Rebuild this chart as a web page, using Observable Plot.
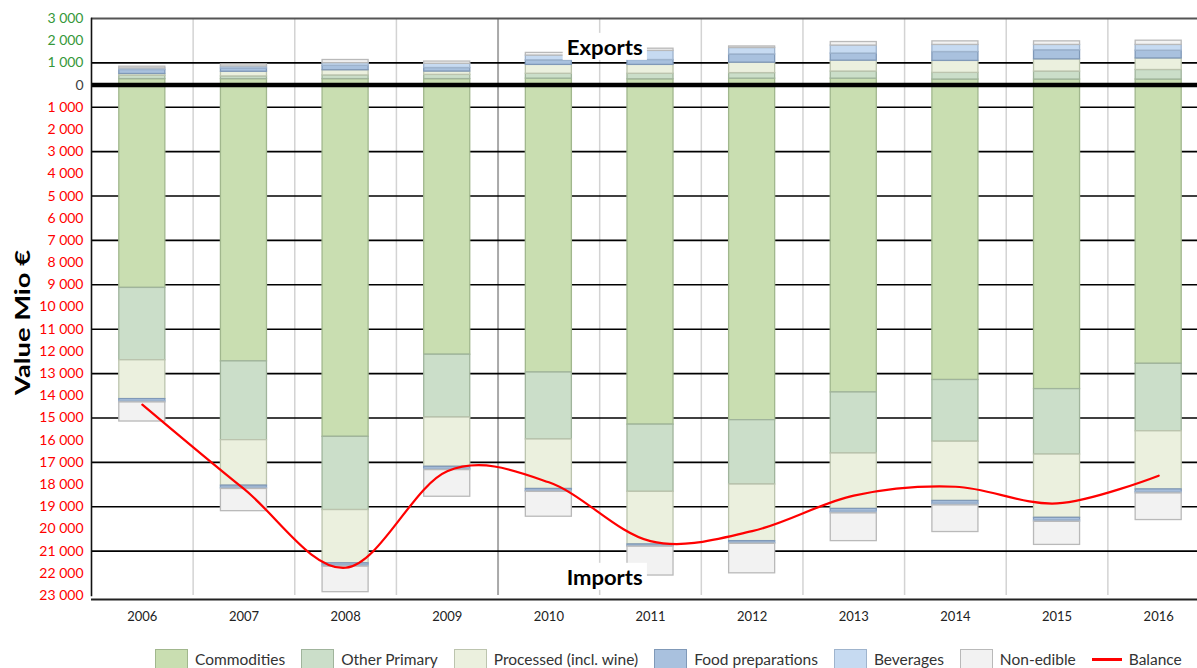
<!DOCTYPE html>
<html>
<head>
<meta charset="utf-8">
<script src="https://cdn.jsdelivr.net/npm/d3@7"></script>
<script src="https://cdn.jsdelivr.net/npm/@observablehq/plot@0.6"></script>
<style>
  html, body { margin: 0; padding: 0; background: #fff; overflow: hidden; }
  #chart { width: 1197px; height: 640px; overflow: hidden; }
  #legend { display: flex; align-items: center; padding-left: 155px; padding-top: 8px; height: 22px;
            font-family: Lato, "Open Sans", sans-serif; font-size: 15.5px; color: #333; white-space: nowrap; }
  .item { display: flex; align-items: center; margin-right: 16px; }
  .sw { width: 33px; height: 21px; margin-right: 7px; box-sizing: border-box; border: 1.5px solid; }
  .ln { width: 30px; height: 3px; background: #ff0000; margin-right: 7px; }
</style>
</head>
<body>
<div id="chart"></div>
<div id="legend"></div>
<script>
// ---------- data ----------
const years = ["2006","2007","2008","2009","2010","2011","2012","2013","2014","2015","2016"];
const categories = ["Commodities","Other Primary","Processed (incl. wine)","Food preparations","Beverages","Non-edible"];

// Exports (Mio €), positive
const exportCommodities      = [270, 270, 270, 270, 290, 260, 290, 290, 250, 250, 250];
const exportOtherPrimary     = [150, 120, 165, 190, 220, 250, 250, 320, 300, 360, 430];
const exportProcessed        = [ 80, 210, 235, 150, 400, 400, 470, 490, 540, 550, 520];
const exportFoodPreparations = [180, 150, 200, 160, 205, 220, 370, 320, 400, 410, 350];
const exportBeverages        = [ 70,  90, 120, 190, 215, 410, 290, 360, 320, 240, 260];
const exportNonEdible        = [ 80,  90, 140, 100, 120, 100,  70, 160, 160, 160, 190];

// Imports (Mio €), shown downward
const importCommodities      = [9140, 12450, 15850, 12150, 12950, 15300, 15100, 13850, 13290, 13700, 12560];
const importOtherPrimary     = [3260,  3550,  3300,  2830,  3020,  3030,  2900,  2750,  2780,  2950,  3040];
const importProcessed        = [1750,  2050,  2400,  2220,  2230,  2370,  2550,  2500,  2670,  2850,  2620];
const importFoodPreparations = [ 100,   100,   100,   100,    90,    70,    80,   130,   130,   120,   120];
const importBeverages        = [  50,    50,    50,    50,    40,    30,    40,    70,    70,    60,    60];
const importNonEdible        = [ 860,  1000,  1150,  1200,  1120,  1300,  1330,  1250,  1200,  1040,  1200];

// Trade balance (Mio €)
const balance = [-14400, -18200, -21750, -17400, -17900, -20550, -20100, -18500, -18100, -18850, -17600];

// axis ticks
const exportTicks = [1000, 2000, 3000];
const zeroTick = [0];
const importTicks = d3.range(-1000, -23001, -1000);
const gridLines = [1000, ...d3.range(-1000, -21001, -2000)];

// ---------- styles ----------
const fillOf = {
  "Commodities": "#c9deb1", "Other Primary": "#cbdec9", "Processed (incl. wine)": "#ebf0de",
  "Food preparations": "#a9c1de", "Beverages": "#c6daf1", "Non-edible": "#f2f2f2"
};
const strokeOf = {
  "Commodities": "#a1b78d", "Other Primary": "#a0b49c", "Processed (incl. wine)": "#bcc4ae",
  "Food preparations": "#8099b8", "Beverages": "#9fb4cd", "Non-edible": "#b9b9b9"
};

const exportSeries = [exportCommodities, exportOtherPrimary, exportProcessed, exportFoodPreparations, exportBeverages, exportNonEdible];
const importSeries = [importCommodities, importOtherPrimary, importProcessed, importFoodPreparations, importBeverages, importNonEdible];

const table = [];
categories.forEach((c, ci) => {
  years.forEach((y, yi) => {
    table.push({year: y, category: c, value: exportSeries[ci][yi]});
    table.push({year: y, category: c, value: -importSeries[ci][yi]});
  });
});
const balanceTable = years.map((y, i) => ({year: y, value: balance[i]}));
const annotations = [{year: "2010", value: 1650, label: "Exports"}, {year: "2010", value: -22230, label: "Imports"}];

// ---------- layout ----------
const W = 1197, H = 640, mL = 91, mR = -12, mT = 18, mB = 45;
const step = (W - mR - mL) / years.length;
const fmt = d => d3.format(",")(Math.abs(d)).replace(/,/g, " ");

const chart = Plot.plot({
  width: W, height: H,
  marginLeft: mL, marginRight: mR, marginTop: mT, marginBottom: mB,
  style: {fontFamily: "Lato, 'Open Sans', sans-serif", background: "#fff"},
  x: {type: "band", domain: years, paddingInner: 0.547, paddingOuter: 0.2735, round: false, label: null},
  y: {domain: [-23000, 3000], label: null},
  color: {type: "identity"},
  marks: [
    // vertical grid between years
    Plot.ruleX(years.slice(1), {x: d => d, dx: -step / 2,
      stroke: d => d === "2010" ? "#a9a9a9" : "#d3d3d3", strokeWidth: d => d === "2010" ? 2 : 1.5}),
    // horizontal grid
    Plot.ruleY(gridLines, {stroke: "#000", strokeWidth: 1.6}),
    Plot.ruleY([3000], {stroke: "#555", strokeWidth: 2}),
    // stacked bars
    Plot.barY(table, Plot.stackY({
      x: "year", y: "value", z: "category", order: categories,
      fill: d => fillOf[d.category], stroke: d => strokeOf[d.category], strokeWidth: 1.3
    })),
    // zero line and frame
    Plot.ruleY([0], {stroke: "#000", strokeWidth: 4.5}),
    Plot.frame({anchor: "left", stroke: "#111", strokeWidth: 1.6}),
    Plot.ruleY([-23000], {stroke: "#222", strokeWidth: 2, dy: 4}),
    // axes
    Plot.axisY(exportTicks, {tickSize: 0, tickPadding: 8, tickFormat: fmt, fill: "#35973a", fontSize: 14, label: null}),
    Plot.axisY(zeroTick, {tickSize: 0, tickPadding: 8, tickFormat: fmt, fill: "#404040", fontSize: 14, label: null}),
    Plot.axisY(importTicks, {tickSize: 0, tickPadding: 8, tickFormat: fmt, fill: "#ff0000", fontSize: 14, label: null}),
    Plot.axisX({tickSize: 0, tickPadding: 16, fontSize: 13, fill: "#222", label: null}),
    Plot.text(["Value Mio €"], {frameAnchor: "left", rotate: -90, dx: -68, dy: 88, textAnchor: "start",
      fontWeight: "bold", fontSize: 20, fill: "#000"}),
    // annotations
    Plot.text(annotations, {x: "year", y: "value", text: "label", dx: step / 2 - 33, textAnchor: "start",
      fontWeight: "bold", fontSize: 20, fill: "#000"}),
    // balance
    Plot.line(balanceTable, {x: "year", y: "value", stroke: "#ff0000", strokeWidth: 2.2, curve: "cardinal", tension: 0})
  ]
});
document.getElementById("chart").appendChild(chart);

chart.querySelectorAll("text").forEach(t => {
  // stretched label like the reference
  if (t.textContent === "Value Mio €") {
    t.setAttribute("textLength", 145);
    t.setAttribute("lengthAdjust", "spacingAndGlyphs");
  }
  // white boxes behind annotation labels
  if (t.textContent === "Exports" || t.textContent === "Imports") {
    t.setAttribute("textLength", 76);
    t.setAttribute("lengthAdjust", "spacingAndGlyphs");
    const b = t.getBBox();
    const r = document.createElementNS("http://www.w3.org/2000/svg", "rect");
    r.setAttribute("x", b.x - 4); r.setAttribute("y", b.y - 2);
    r.setAttribute("width", b.width + 8); r.setAttribute("height", b.height + 3);
    r.setAttribute("fill", "#fff"); r.setAttribute("stroke", "none");
    if (t.getAttribute("transform")) r.setAttribute("transform", t.getAttribute("transform"));
    t.parentNode.insertBefore(r, t);
  }
});

// legend
const legend = document.getElementById("legend");
categories.forEach(c => {
  const it = document.createElement("div"); it.className = "item";
  const sw = document.createElement("div"); sw.className = "sw";
  sw.style.background = fillOf[c]; sw.style.borderColor = strokeOf[c];
  const tx = document.createElement("span"); tx.textContent = c;
  it.appendChild(sw); it.appendChild(tx); legend.appendChild(it);
});
const it = document.createElement("div"); it.className = "item";
const ln = document.createElement("div"); ln.className = "ln";
const tx = document.createElement("span"); tx.textContent = "Balance";
it.appendChild(ln); it.appendChild(tx); legend.appendChild(it);
</script>
</body>
</html>
